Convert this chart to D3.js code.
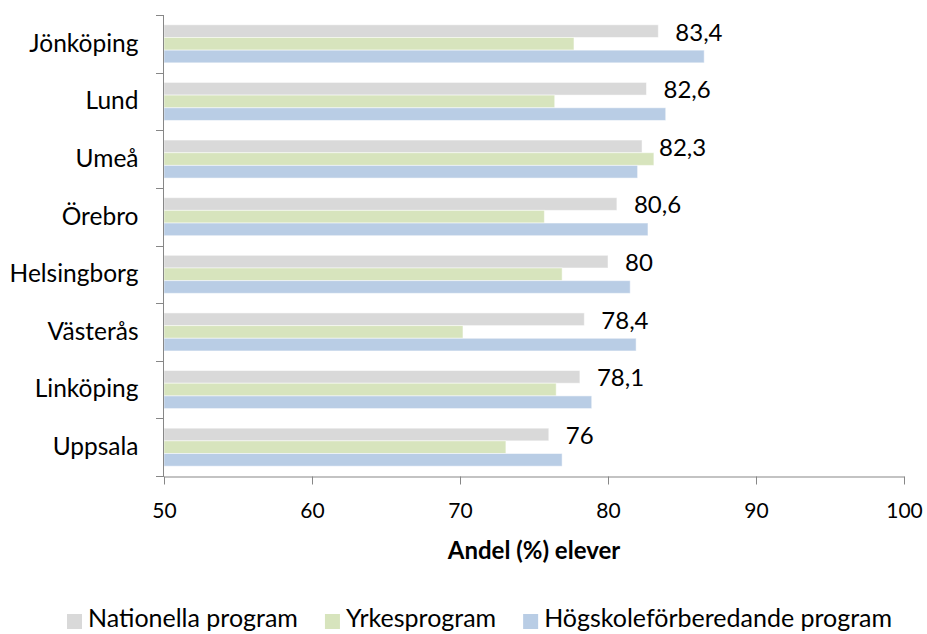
<!DOCTYPE html>
<html>
<head>
<meta charset="utf-8">
<script src="https://cdn.jsdelivr.net/npm/d3@7"></script>
<style>
  body { margin: 0; background: #fff; }
  text { font-family: Lato, "Noto Sans", sans-serif; fill: #000; }
</style>
</head>
<body>
<div id="chart"></div>
<script>
// data
const cities = ['Jönköping', 'Lund', 'Umeå', 'Örebro', 'Helsingborg', 'Västerås', 'Linköping', 'Uppsala'];
const seriesNames = ['Nationella program', 'Yrkesprogram', 'Högskoleförberedande program'];
const nationella = [83.4, 82.6, 82.3, 80.6, 80, 78.4, 78.1, 76];
const yrkes = [77.7, 76.4, 83.1, 75.7, 76.9, 70.2, 76.5, 73.1];
const hogskole = [86.5, 83.9, 82.0, 82.7, 81.5, 81.9, 78.9, 76.9];
const xTicks = [50, 60, 70, 80, 90, 100];
const xTitle = 'Andel (%) elever';
const colors = ['#d9d9d9', '#d7e4bd', '#b9cde5'];

const WIDTH = 927, HEIGHT = 634;
const plot = {left: 164, right: 904, top: 15, bottom: 476};
const axisColor = '#878787';

const svg = d3.select('#chart')
  .append('svg')
    .attr('width', WIDTH)
    .attr('height', HEIGHT);

const x = d3.scaleLinear()
  .domain([xTicks[0], xTicks[xTicks.length - 1]])
  .range([plot.left, plot.right]);

const y0 = d3.scaleBand()
  .domain(cities)
  .range([plot.top, plot.bottom])
  .paddingInner(0.34)
  .paddingOuter(0.17);

const y1 = d3.scaleBand()
  .domain(seriesNames)
  .range([0, y0.bandwidth()]);

const color = d3.scaleOrdinal().domain(seriesNames).range(colors);

const rows = cities.map((c, i) => ({
  city: c,
  values: [nationella[i], yrkes[i], hogskole[i]].map((v, k) => ({name: seriesNames[k], value: v}))
}));

// bars
const groups = svg.append('g')
  .selectAll('g')
  .data(rows)
  .join('g')
    .attr('transform', d => `translate(0, ${y0(d.city)})`);

groups.selectAll('rect')
  .data(d => d.values)
  .join('rect')
    .attr('x', x(xTicks[0]))
    .attr('y', d => y1(d.name))
    .attr('width', d => x(d.value) - x(xTicks[0]))
    .attr('height', y1.bandwidth())
    .attr('fill', d => color(d.name))
    .attr('stroke', '#ffffff')
    .attr('stroke-opacity', 0.5)
    .attr('stroke-width', 1);

// data labels, first series only
const fmt = v => String(v).replace('.', ',');
groups.append('text')
  .attr('x', d => x(d.values[0].value) + 17)
  .attr('y', d => y1(seriesNames[0]) + y1.bandwidth() / 2 + 1)
  .attr('dy', '0.35em')
  .attr('font-size', 24)
  .text(d => fmt(d.values[0].value));

// y axis: labels centred on bands, ticks between categories
const yAxis = svg.append('g')
  .attr('transform', `translate(${plot.left - 0.5}, 0)`)
  .call(d3.axisLeft(y0).tickSize(0).tickPadding(25));
yAxis.select('.domain').remove();
yAxis.selectAll('text')
  .attr('font-size', 24.5)
  .attr('font-family', 'Lato, "Noto Sans", sans-serif')
  .attr('fill', '#000');

const boundaries = cities.map(c => y0(c) - y0.step() * y0.paddingInner() / 2)
  .concat([plot.bottom]);

svg.append('g')
  .selectAll('line')
  .data(boundaries)
  .join('line')
    .attr('x1', plot.left - 8)
    .attr('x2', plot.left)
    .attr('y1', d => Math.round(d) + 0.5)
    .attr('y2', d => Math.round(d) + 0.5)
    .attr('stroke', axisColor);

svg.append('line')
  .attr('x1', plot.left - 0.5)
  .attr('x2', plot.left - 0.5)
  .attr('y1', plot.top)
  .attr('y2', plot.bottom + 0.5)
  .attr('stroke', axisColor);

// x axis
const xAxis = svg.append('g')
  .attr('transform', `translate(0, ${plot.bottom + 0.5})`)
  .call(d3.axisBottom(x).tickValues(xTicks).tickSize(8).tickPadding(19).tickSizeOuter(0));
xAxis.select('.domain').attr('stroke', axisColor);
xAxis.selectAll('.tick line').attr('stroke', axisColor);
xAxis.selectAll('text')
  .attr('font-size', 21)
  .attr('font-family', 'Lato, "Noto Sans", sans-serif')
  .attr('fill', '#000');

svg.append('text')
  .attr('x', (plot.left + plot.right) / 2)
  .attr('y', 559)
  .attr('text-anchor', 'middle')
  .attr('font-size', 24)
  .attr('font-weight', 'bold')
  .text(xTitle);

// legend
const legend = svg.append('g');
let lx = 67;
seriesNames.forEach((name, i) => {
  legend.append('rect')
    .attr('x', lx)
    .attr('y', 614)
    .attr('width', 15)
    .attr('height', 15)
    .attr('fill', color(name));
  const t = legend.append('text')
    .attr('x', lx + 21)
    .attr('y', 627)
    .attr('font-size', 25)
    .text(name);
  lx += 21 + t.node().getComputedTextLength() + 27;
});
</script>
</body>
</html>
